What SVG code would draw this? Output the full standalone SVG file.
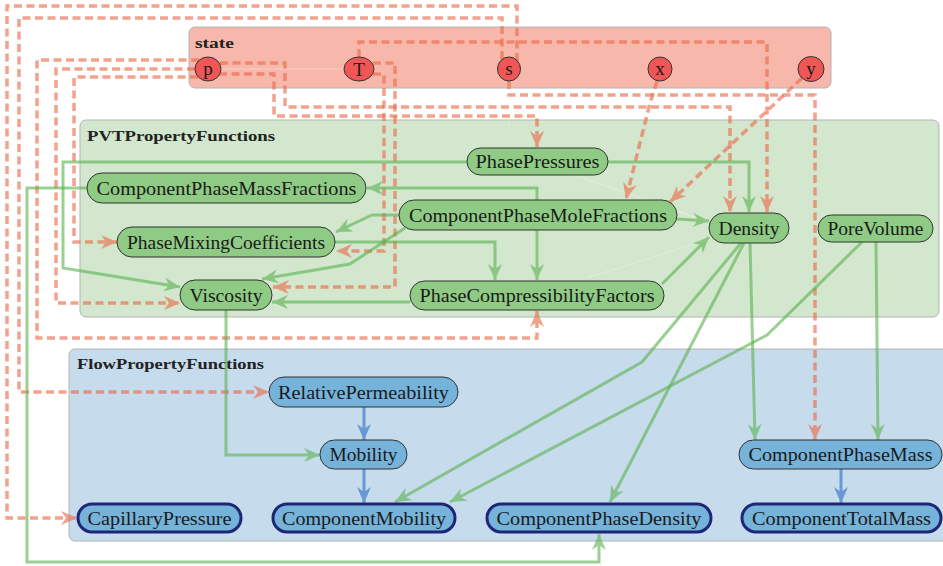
<svg xmlns="http://www.w3.org/2000/svg" width="943" height="566" viewBox="0 0 943 566">
  <style>
    .cl { stroke: #b4b4b4; stroke-width: 1; }
    .cl-state { fill: #f7b8ab; }
    .cl-pvt { fill: #d2e7cd; }
    .cl-flow { fill: #c6dbec; }
    .ctitle { font-family: "Liberation Serif", "DejaVu Serif", serif; font-weight: bold; font-size: 14px; fill: #222; }
    .var { fill: #ef5757; stroke: #333; stroke-width: 1; }
    .pvt { fill: #8fcb84; stroke: #333; stroke-width: 1; }
    .flow { fill: #75b3da; stroke: #333; stroke-width: 1; }
    .out { fill: #75b3da; stroke: #1f2677; stroke-width: 3; }
    .lbl { font-family: "Liberation Serif", "DejaVu Serif", serif; font-size: 18.5px; fill: #1a1a1a; text-anchor: middle; }
    .vlbl { font-family: "Liberation Serif", "DejaVu Serif", serif; font-size: 19px; fill: #1a1a1a; text-anchor: middle; }
    .er { fill: none; stroke: #ec6a48; stroke-width: 3.5; stroke-dasharray: 8 4.5; opacity: 0.62; marker-end: url(#ar); }
    .eg { fill: none; stroke: #5ab24e; stroke-width: 3; opacity: 0.6; marker-end: url(#ag); }
    .eb { fill: none; stroke: #4a82cc; stroke-width: 3; opacity: 0.75; marker-end: url(#ab); }
    .faint { fill: none; stroke: #ffffff; stroke-width: 1; opacity: 0.35; }
  </style>
  <defs>
    <marker id="ar" viewBox="0 0 16 14" refX="16" refY="7" markerWidth="16" markerHeight="14" markerUnits="userSpaceOnUse" orient="auto">
      <path d="M0,0 L16,7 L0,14 L5,7 Z" fill="#ec6a48"/>
    </marker>
    <marker id="ag" viewBox="0 0 16 14" refX="16" refY="7" markerWidth="16" markerHeight="14" markerUnits="userSpaceOnUse" orient="auto">
      <path d="M0,0 L16,7 L0,14 L5,7 Z" fill="#5ab24e"/>
    </marker>
    <marker id="ab" viewBox="0 0 16 14" refX="16" refY="7" markerWidth="16" markerHeight="14" markerUnits="userSpaceOnUse" orient="auto">
      <path d="M0,0 L16,7 L0,14 L5,7 Z" fill="#4a82cc"/>
    </marker>
  </defs>

  <!-- clusters -->
  <g id="cluster-state">
    <rect class="cl cl-state" x="189" y="27" width="642" height="61" rx="6"/>
    <text class="ctitle" x="195" y="48" textLength="39" lengthAdjust="spacingAndGlyphs">state</text>
  </g>
  <g id="cluster-pvt">
    <rect class="cl cl-pvt" x="80" y="120" width="859" height="197" rx="6"/>
    <text class="ctitle" x="87" y="141" textLength="188" lengthAdjust="spacingAndGlyphs">PVTPropertyFunctions</text>
  </g>
  <g id="cluster-flow">
    <rect class="cl cl-flow" x="69" y="349" width="890" height="192" rx="6"/>
    <text class="ctitle" x="77" y="369" textLength="187" lengthAdjust="spacingAndGlyphs">FlowPropertyFunctions</text>
  </g>

  <!-- connectors -->
  <g id="connectors">
    <!-- faint layout edges -->
    <path class="faint" d="M221,69 H344"/>
    <path class="faint" d="M509,81 V125"/>
    <path class="faint" d="M575,175 L709,222"/>
    <path class="faint" d="M587,278 L707,240"/>

    <!-- state variables -->
    <path class="er" d="M198,77 H74 V242 H117"/>
    <path class="er" d="M195,69 H56 V303 H180"/>
    <path class="er" d="M199,60 H37 V338 H537 V311"/>
    <path class="er" d="M220,63 H285 V107 H730 V212"/>
    <path class="er" d="M219,74 H274 V116 H537 V147"/>
    <path class="er" d="M359,57 V42 H767 V212"/>
    <path class="er" d="M373,63 H395 V287 H273"/>
    <path class="er" d="M373,74 H384 V251 H336"/>
    <path class="er" d="M502,59 V18 H19 V392 H269"/>
    <path class="er" d="M517,61 V6 H7 V518 H77"/>
    <path class="er" d="M509,81 V95 H815 V440"/>
    <path class="er" d="M657,81 L649,107 L626,199"/>
    <path class="er" d="M802,78 L670,202"/>

    <!-- PVT property dependencies -->
    <path class="eg" d="M608,162 H749 V212"/>
    <path class="eg" d="M467,162 H63 V268 L180,287"/>
    <path class="eg" d="M87,188 H27 V562 H599 V534"/>
    <path class="eg" d="M537,200 V188 H367"/>
    <path class="eg" d="M399,215 H372 L336,232"/>
    <path class="eg" d="M405,228 L350,264 L262,279"/>
    <path class="eg" d="M537,230 V280"/>
    <path class="eg" d="M677,219 L709,221"/>
    <path class="eg" d="M335,242 H495 V280"/>
    <path class="eg" d="M410,302 H272"/>
    <path class="eg" d="M662,284 L709,237"/>
    <path class="eg" d="M226,310 V455 H320"/>
    <path class="eg" d="M741,243 L642,362 L395,502"/>
    <path class="eg" d="M744,243 L610,502"/>
    <path class="eg" d="M750,243 L755,440"/>
    <path class="eg" d="M862,242 L767,335 L450,502"/>
    <path class="eg" d="M876,242 L878,440"/>

    <!-- flow property dependencies -->
    <path class="eb" d="M364,407 V440"/>
    <path class="eb" d="M364,469 V503"/>
    <path class="eb" d="M841,469 V503"/>
  </g>

  <!-- state variables -->
  <g id="p"><ellipse class="var" cx="208" cy="69" rx="13" ry="12"/><text class="vlbl" x="208" y="75">p</text></g>
  <g id="T"><ellipse class="var" cx="359" cy="69" rx="15" ry="12"/><text class="vlbl" x="359" y="75.5">T</text></g>
  <g id="s"><ellipse class="var" cx="509" cy="69" rx="11.5" ry="12"/><text class="vlbl" x="509" y="75">s</text></g>
  <g id="x"><ellipse class="var" cx="660" cy="69" rx="12" ry="12"/><text class="vlbl" x="660" y="75">x</text></g>
  <g id="y"><ellipse class="var" cx="811" cy="69" rx="13" ry="12.5"/><text class="vlbl" x="811" y="75">y</text></g>

  <!-- PVT property functions -->
  <g id="PhasePressures"><rect class="pvt" x="467" y="148" width="141" height="27" rx="13.5"/><text class="lbl" x="537.5" y="168" textLength="124" lengthAdjust="spacingAndGlyphs">PhasePressures</text></g>
  <g id="ComponentPhaseMassFractions"><rect class="pvt" x="87" y="173" width="279" height="30" rx="15"/><text class="lbl" x="226.5" y="195" textLength="260" lengthAdjust="spacingAndGlyphs">ComponentPhaseMassFractions</text></g>
  <g id="ComponentPhaseMoleFractions"><rect class="pvt" x="399" y="200" width="278" height="30" rx="15"/><text class="lbl" x="538" y="222" textLength="258" lengthAdjust="spacingAndGlyphs">ComponentPhaseMoleFractions</text></g>
  <g id="PhaseMixingCoefficients"><rect class="pvt" x="117" y="227" width="218" height="30" rx="15"/><text class="lbl" x="226" y="249" textLength="198" lengthAdjust="spacingAndGlyphs">PhaseMixingCoefficients</text></g>
  <g id="Viscosity"><rect class="pvt" x="180" y="280" width="92" height="30" rx="15"/><text class="lbl" x="226" y="302" textLength="73" lengthAdjust="spacingAndGlyphs">Viscosity</text></g>
  <g id="PhaseCompressibilityFactors"><rect class="pvt" x="410" y="281" width="254" height="29" rx="14.5"/><text class="lbl" x="537" y="302" textLength="235" lengthAdjust="spacingAndGlyphs">PhaseCompressibilityFactors</text></g>
  <g id="Density"><rect class="pvt" x="709" y="213" width="80" height="30" rx="15"/><text class="lbl" x="749" y="235" textLength="61" lengthAdjust="spacingAndGlyphs">Density</text></g>
  <g id="PoreVolume"><rect class="pvt" x="818" y="215" width="115" height="27" rx="13.5"/><text class="lbl" x="875.5" y="235" textLength="96" lengthAdjust="spacingAndGlyphs">PoreVolume</text></g>

  <!-- flow property functions -->
  <g id="RelativePermeability"><rect class="flow" x="269" y="377" width="189" height="30" rx="15"/><text class="lbl" x="363.5" y="399" textLength="171" lengthAdjust="spacingAndGlyphs">RelativePermeability</text></g>
  <g id="Mobility"><rect class="flow" x="320" y="440" width="87" height="29" rx="14.5"/><text class="lbl" x="363.5" y="461" textLength="68" lengthAdjust="spacingAndGlyphs">Mobility</text></g>
  <g id="ComponentPhaseMass"><rect class="flow" x="739" y="440" width="203" height="29" rx="14.5"/><text class="lbl" x="840.5" y="461" textLength="184" lengthAdjust="spacingAndGlyphs">ComponentPhaseMass</text></g>
  <g id="CapillaryPressure"><rect class="out" x="78" y="504" width="163" height="28" rx="14"/><text class="lbl" x="159.5" y="525" textLength="144" lengthAdjust="spacingAndGlyphs">CapillaryPressure</text></g>
  <g id="ComponentMobility"><rect class="out" x="273" y="504" width="182" height="28" rx="14"/><text class="lbl" x="364" y="525" textLength="164" lengthAdjust="spacingAndGlyphs">ComponentMobility</text></g>
  <g id="ComponentPhaseDensity"><rect class="out" x="487" y="504" width="224" height="28" rx="14"/><text class="lbl" x="599" y="525" textLength="205" lengthAdjust="spacingAndGlyphs">ComponentPhaseDensity</text></g>
  <g id="ComponentTotalMass"><rect class="out" x="742" y="504" width="199" height="28" rx="14"/><text class="lbl" x="841.5" y="525" textLength="179" lengthAdjust="spacingAndGlyphs">ComponentTotalMass</text></g>
</svg>
